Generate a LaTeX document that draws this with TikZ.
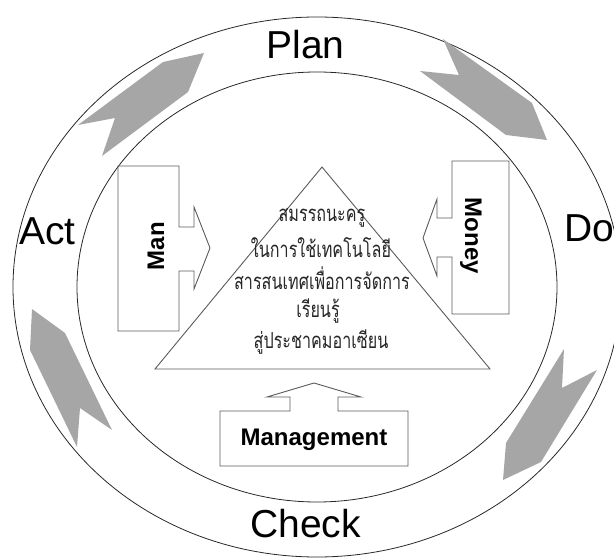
\documentclass[tikz,border=0pt]{standalone}
\usepackage{fontspec}
\setmainfont{Liberation Sans}
\newfontfamily\thaifont[Script=Thai]{Loma}
\definecolor{arrowgray}{RGB}{166,166,166}
\definecolor{ringline}{RGB}{40,40,40}
\definecolor{boxline}{RGB}{90,90,90}
\newcommand{\thaitall}[1]{\scalebox{0.95}[1.3]{#1}}
\begin{document}
\begin{tikzpicture}[x=1pt,y=-1pt,line join=miter,
  ring/.style={draw=ringline,line width=0.8pt},
  cyclearrow/.style={fill=arrowgray,draw=none},
  outline/.style={draw=boxline,line width=0.9pt},
  pdca/.style={font=\fontsize{39}{39}\selectfont,inner sep=0pt},
  blabel/.style={font=\bfseries\fontsize{24}{24}\selectfont,inner sep=0pt},
  thai/.style={font=\thaifont\fontsize{17}{20}\selectfont,inner sep=0pt,text=black!85}]
\useasboundingbox (0,0) rectangle (614,559);
\clip (0,0) rectangle (614,559);
% rings
\coordinate (c) at (317,287);
\draw[ring] (c) ellipse [x radius=304pt,y radius=270pt];
\draw[ring] (c) ellipse [x radius=240pt,y radius=215pt];
% cycle arrows
\fill[cyclearrow] (78,125) -- (163,62) -- (204,53) -- (188,92) -- (102,156) -- (115,118) -- cycle;
\fill[cyclearrow] (443,39) -- (532,103) -- (547,140) -- (506,135) -- (420,71) -- (459,75) -- cycle;
\fill[cyclearrow] (564,349) -- (506,443) -- (503,480) -- (541,462) -- (597,370) -- (562,388) -- cycle;
\fill[cyclearrow] (32,309) -- (65,333) -- (112,430) -- (80,408) -- (77,447) -- (30,350) -- cycle;
% PDCA labels
\node[pdca,anchor=base] (plan) at (305.5,59) {Plan};
\node[pdca,anchor=base west] (act) at (19,245) {Act};
\node[pdca,anchor=base west] (do) at (564,242) {Do};
\node[pdca,anchor=base] (check) at (305.5,537) {Check};
% triangle
\coordinate (apex) at (322,167);
\coordinate (bl) at (155,369);
\coordinate (br) at (490,369);
\draw[outline] (apex) -- (br) -- (bl) -- cycle;
\node[thai] (t1) at (322,218) {\thaitall{สมรรถนะครู}};
\node[thai] (t2) at (321,248) {\thaitall{ในการใช้เทคโนโลยี}};
\node[thai] (t3) at (322,278) {\thaitall{สารสนเทศเพื่อการจัดการ}};
\node[thai] (t4) at (318,311) {\thaitall{เรียนรู้}};
\node[thai] (t5) at (321,342) {\thaitall{สู่ประชาคมอาเซียน}};
% Man
\draw[outline] (118,166) -- (179,166) -- (179,227) -- (194,227) -- (194,207) -- (210,248)
  -- (194,289) -- (194,271) -- (179,271) -- (179,331) -- (118,331) -- cycle;
\node[blabel,rotate=90] (man) at (156,246) {Man};
% Money
\draw[outline] (509,161) -- (452,161) -- (452,218) -- (437,218) -- (437,199) -- (423,238)
  -- (437,276) -- (437,257) -- (452,257) -- (452,314) -- (509,314) -- cycle;
\node[blabel,rotate=-90] (money) at (471,236) {Money};
% Management
\draw[outline] (220,411) -- (290,411) -- (290,397) -- (267,397) -- (314,383) -- (361,397)
  -- (338,397) -- (338,411) -- (408,411) -- (408,466) -- (220,466) -- cycle;
\node[blabel] (mgmt) at (314,440) {Management};
\end{tikzpicture}
\end{document}
